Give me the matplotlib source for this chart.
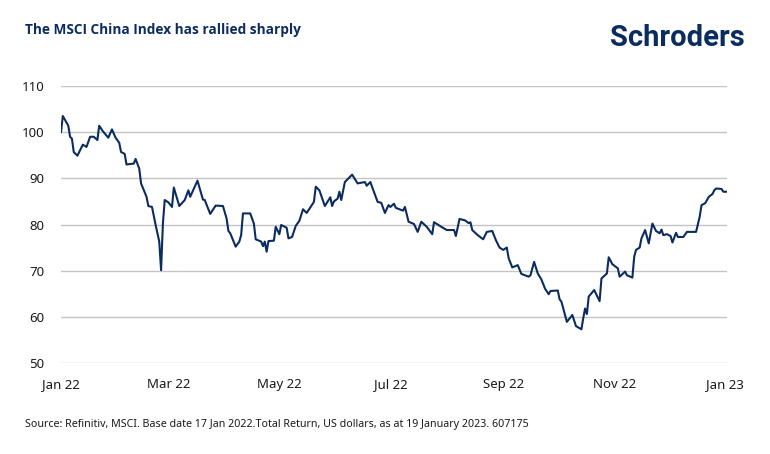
import datetime as dt
import numpy as np
import matplotlib.pyplot as plt
import matplotlib.dates as mdates

plt.rcParams['font.family'] = ['Noto Sans', 'DejaVu Sans']

navy = '#0b2c5f'

# days since base date (17 Jan 2022) and index level (base = 100)
base = dt.date(2022, 1, 17)
days = [0, 1, 4, 5, 6, 7, 9, 12, 14, 16, 18, 20, 21, 23, 26, 28, 30, 32, 33, 35,
        36, 40, 41, 43, 44, 47, 48, 50, 52, 54, 55, 56, 57, 59, 61, 62, 65, 68, 70, 71,
        75, 78, 79, 82, 85, 89, 91, 92, 93, 96, 98, 99, 100, 104, 106, 107, 110, 111, 112, 113,
        114, 117, 118, 120, 121, 124, 125, 127, 129, 131, 133, 135, 139, 140, 142, 145, 148, 149, 150, 152,
        153, 154, 156, 160, 163, 167, 168, 170, 174, 176, 178, 180, 181, 183, 184, 188, 189, 191, 194, 196,
        198, 201, 204, 205, 209, 212, 216, 217, 219, 222, 224, 225, 226, 229, 232, 234, 237, 239, 241, 243,
        245, 246, 248, 251, 253, 257, 258, 260, 262, 264, 266, 268, 269, 273, 274, 275, 278, 281, 283, 286,
        287, 288, 289, 290, 293, 296, 297, 300, 301, 303, 306, 307, 310, 311, 314, 315, 316, 318, 319, 321,
        323, 325, 327, 329, 330, 331, 333, 335, 336, 338, 339, 342, 344, 349, 351, 352, 354, 356, 358, 359,
        360, 363, 364, 366]
index = [100.0, 103.5, 101.4, 99.0, 98.6, 95.7, 94.9, 97.3, 96.8, 99.0, 99.0, 98.3, 101.4, 100.2, 98.8, 100.6, 98.8, 97.7, 95.7, 95.3,
         93.0, 93.2, 94.2, 92.1, 88.9, 86.0, 84.0, 83.8, 79.9, 76.3, 70.1, 80.2, 85.3, 84.8, 83.8, 88.0, 84.0, 85.3, 87.4, 86.0,
         89.5, 85.4, 85.3, 82.3, 84.1, 84.0, 81.3, 78.6, 78.1, 75.2, 76.3, 77.7, 82.4, 82.4, 80.2, 76.8, 76.3, 75.3, 76.3, 74.1,
         76.4, 76.5, 79.5, 77.9, 79.9, 79.3, 77.0, 77.3, 79.7, 80.8, 83.3, 82.5, 84.9, 88.2, 87.4, 84.0, 85.9, 84.0, 85.0, 85.6,
         87.1, 85.3, 89.2, 90.8, 88.9, 89.2, 88.4, 89.2, 84.9, 84.7, 82.5, 84.2, 83.8, 84.5, 83.6, 83.0, 83.8, 80.6, 80.1, 78.4,
         80.6, 79.5, 77.9, 80.5, 79.5, 78.8, 78.8, 77.5, 81.2, 80.9, 80.3, 80.5, 78.8, 77.7, 76.8, 78.4, 78.6, 76.6, 75.0, 74.5,
         75.0, 72.7, 70.7, 71.2, 69.3, 68.7, 69.0, 71.9, 69.4, 68.1, 66.1, 64.9, 65.6, 65.7, 63.8, 63.3, 58.9, 60.4, 58.0, 57.3,
         59.7, 61.8, 60.6, 64.4, 65.8, 63.4, 68.3, 69.4, 72.9, 71.4, 70.5, 68.7, 69.8, 69.0, 68.5, 73.0, 74.5, 75.0, 77.0, 78.8,
         75.9, 80.2, 78.6, 78.1, 78.9, 77.7, 77.9, 77.5, 76.1, 78.2, 77.3, 77.3, 78.4, 78.4, 81.7, 84.2, 84.6, 86.0, 86.6, 87.4,
         87.8, 87.7, 87.1, 87.1]
dates = [base + dt.timedelta(days=d) for d in days]

tick_dates = [dt.date(2022, 1, 17), dt.date(2022, 3, 17), dt.date(2022, 5, 17), dt.date(2022, 7, 17),
              dt.date(2022, 9, 17), dt.date(2022, 11, 17), dt.date(2023, 1, 17)]
tick_labels = ['Jan 22', 'Mar 22', 'May 22', 'Jul 22', 'Sep 22', 'Nov 22', 'Jan 23']
yticks = [50, 60, 70, 80, 90, 100, 110]

fig = plt.figure(figsize=(7.7, 4.54), dpi=100)
ax = fig.add_axes([61/770, 1 - 363/454, (727 - 61)/770, (363 - 86)/454])

ax.plot(dates, index, color=navy, lw=1.5, solid_joinstyle='round')

ax.set_xlim(base, base + dt.timedelta(days=366))
ax.set_ylim(50, 110)
ax.set_yticks(yticks)
ax.set_xticks(tick_dates)
ax.set_xticklabels(tick_labels)
ax.grid(axis='y', color='#c4c4c4', lw=1)
ax.set_axisbelow(True)
for s in ax.spines.values():
    s.set_visible(False)
ax.tick_params(length=0, labelsize=9.5, colors='#1a1a1a')
ax.tick_params(axis='y', pad=12)
ax.tick_params(axis='x', pad=11)

fig.text(25/770, 1 - 30/454, 'The MSCI China Index has rallied sharply', fontsize=9.8,
         fontweight='bold', color=navy, va='center', ha='left', family=['Open Sans', 'Lato', 'DejaVu Sans'])
fig.text(745/770, 1 - 38/454, 'Schroders', fontsize=21, fontweight='bold', color=navy,
         family=['Roboto', 'DejaVu Sans'], va='center', ha='right')
fig.text(25/770, 1 - 425/454,
         'Source: Refinitiv, MSCI. Base date 17 Jan 2022.Total Return, US dollars, as at 19 January 2023. 607175',
         fontsize=7.7, color='#1a1a1a', va='center', ha='left')

fig.savefig('out.png', dpi=100)
